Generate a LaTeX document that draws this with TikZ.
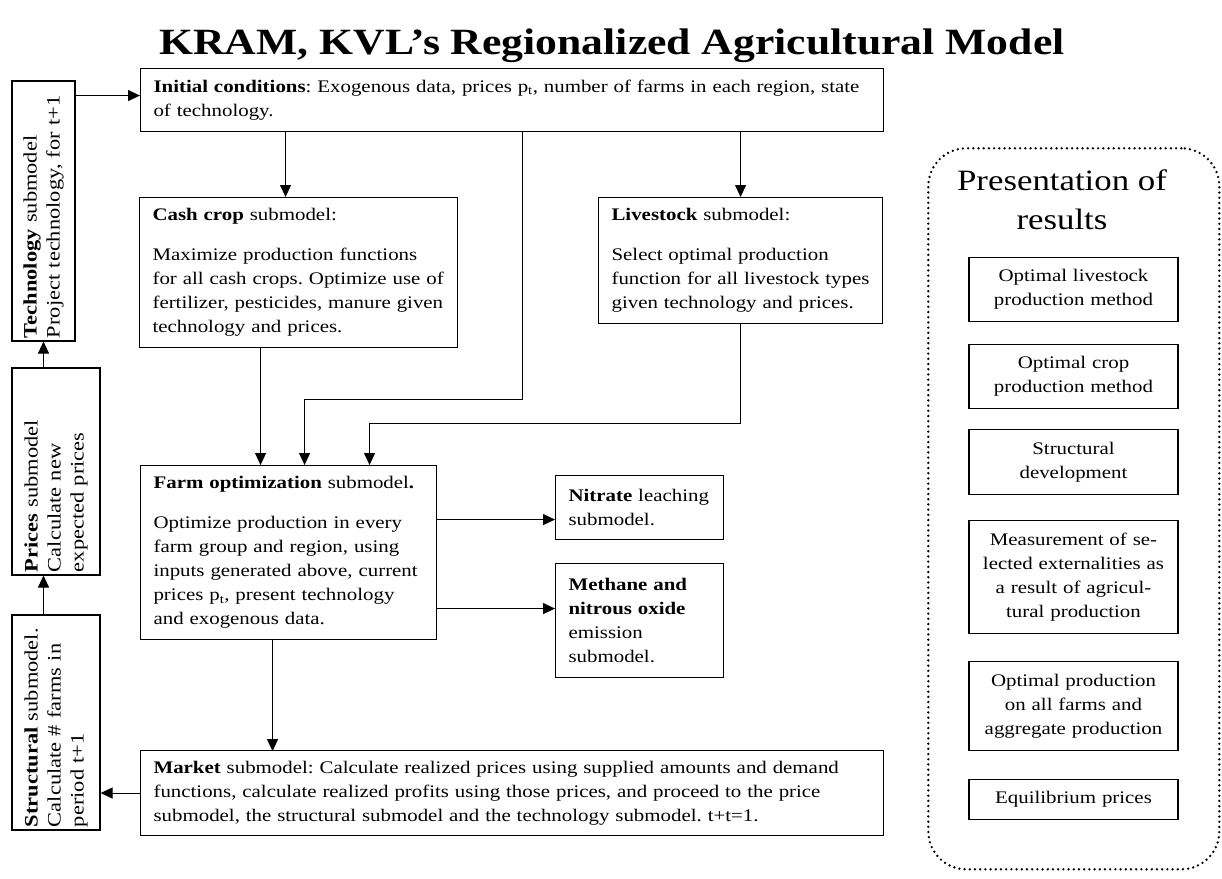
\documentclass[tikz,border=0pt]{standalone}
\usepackage{fontspec}
\setmainfont{Liberation Serif}[FakeStretch=1.18]
\usepackage{tikz}
\usetikzlibrary{arrows.meta,positioning}

\newcommand\boxfont{\fontsize{17.7}{24}\selectfont}
\newcommand\sidefont{\fontsize{19}{23}\selectfont}
\newcommand\headfont{\fontsize{37}{40}\selectfont\bfseries}
\newcommand\groupfont{\fontsize{29.5}{39}\selectfont}

\begin{document}
\frenchspacing
\begin{tikzpicture}[
        x=1pt, y=-1pt,
        box/.style={
            rectangle,
            draw=black,
            line width=1.1pt,
            anchor=north west,
            align=left,
            inner xsep=13pt,
            inner ysep=0pt,
            font=\boxfont
        },
        side/.style={
            box,
            anchor=center,
            rotate=90,
            inner xsep=3pt,
            font=\sidefont
        },
        result/.style={
            box,
            anchor=north,
            align=center,
            inner xsep=4pt,
            text width=201pt
        },
        group/.style={
            draw=black,
            line width=2.6pt,
            dash pattern=on 0pt off 5.2pt,
            line cap=round,
            rounded corners=38pt,
            anchor=north west
        },
        arrow/.style={-{Triangle[length=12pt,width=11pt]}, draw, line width=1.1pt}
    ]
        \useasboundingbox (0,0) rectangle (1222,878);

        % Title
        \node[font=\headfont] (title) at (612,46) {KRAM, KVL’s Regionalized Agricultural Model};

        % Submodel boxes
        \node[box, text width=717pt, minimum height=63pt] (initial) at (140,68)
            {\textbf{Initial conditions}: Exogenous data, prices p\textsubscript{t}, number of farms in each region, state\\of technology.};

        \node[box, text width=292pt, minimum height=150pt] (cashcrop) at (139,197)
            {\textbf{Cash crop} submodel:\\[16pt]Maximize production functions\\for all cash crops. Optimize use of\\fertilizer, pesticides, manure given\\technology and prices.};

        \node[box, text width=258pt, minimum height=126pt] (livestock) at (598,197)
            {\textbf{Livestock} submodel:\\[16pt]Select optimal production\\function for all livestock types\\given technology and prices.};

        \node[box, text width=270pt, minimum height=174pt] (farm) at (140,465)
            {\textbf{Farm optimization} submodel\textbf{.}\\[16pt]Optimize production in every\\farm group and region, using\\inputs generated above, current\\prices p\textsubscript{t}, present technology\\and exogenous data.};

        \node[box, text width=142pt, minimum height=64pt] (nitrate) at (555,475)
            {\textbf{Nitrate} leaching\\submodel.};

        \node[box, text width=142pt, minimum height=114pt] (methane) at (555,563)
            {\textbf{Methane and}\\\textbf{nitrous oxide}\\emission\\submodel.};

        \node[box, text width=717pt, minimum height=85pt] (market) at (140,750)
            {\textbf{Market} submodel: Calculate realized prices using supplied amounts and demand\\functions, calculate realized profits using those prices, and proceed to the price\\submodel, the structural submodel and the technology submodel. t+t=1.};

        % Side boxes (rotated)
        \node[side, text width=254pt, minimum height=63pt] (tech) at (43.5,211)
            {\textbf{Technology} submodel\\Project technology, for t+1};
        \node[side, text width=201pt, minimum height=88pt] (prices) at (56,471.5)
            {\textbf{Prices} submodel\\Calculate new\\expected prices};
        \node[side, text width=209pt, minimum height=88pt] (structural) at (56,722.5)
            {\textbf{Structural} submodel.\\Calculate \# farms in\\period t+1};

        % Presentation of results
        \node[group, minimum width=291pt, minimum height=721pt] (results) at (927,147) {};
        \node[font=\groupfont, align=center, inner sep=0pt] (restitle) at (1062,200) {Presentation of\\results};

        \node[result, minimum height=64pt] (res1) at (1073.5,257) {Optimal livestock\\production method};
        \node[result, minimum height=64pt] (res2) at (1073.5,344) {Optimal crop\\production method};
        \node[result, minimum height=65pt] (res3) at (1073.5,429) {Structural\\development};
        \node[result, minimum height=113pt] (res4) at (1073.5,520) {Measurement of se-\\lected externalities as\\a result of agricul-\\tural production};
        \node[result, minimum height=89pt] (res5) at (1073.5,661) {Optimal production\\on all farms and\\aggregate production};
        \node[result, minimum height=40pt] (res6) at (1073.5,779) {Equilibrium prices};

        % Entry points on the farm box
        \coordinate (f1) at ([xshift=-28pt]farm.north);
        \coordinate (f2) at ([xshift=16pt]farm.north);
        \coordinate (f3) at ([xshift=81pt]farm.north);
        \coordinate (cc in) at ([xshift=-13pt]cashcrop.north);
        \coordinate (n in) at ([yshift=-12pt]nitrate.west);
        \coordinate (m in) at ([yshift=12pt]methane.west);

        % Flow lines
        \draw[arrow] (initial.south -| cc in) -- (cc in);
        \draw[arrow] (initial.south -| livestock.north) -- (livestock.north);
        \draw[arrow] ([xshift=10.5pt]initial.south) -- ++(0,267) -| (f2);
        \draw[arrow] (cashcrop.south -| f1) -- (f1);
        \draw[arrow] (livestock.south) -- ++(0,99) -| (f3);
        \draw[arrow] (farm.east |- n in) -- (n in);
        \draw[arrow] (farm.east |- m in) -- (m in);
        \draw[arrow] ([xshift=-16pt]farm.south) -- ++(0,111);

        % Feedback loop
        \draw[arrow] (market.west) -- (structural.south |- market.west);
        \draw[arrow] (tech |- structural.east) -- (tech |- prices.west);
        \draw[arrow] (tech |- prices.east) -- (tech.west);
        \draw[arrow] ([yshift=4.5pt]tech.south |- initial.west) -- ([yshift=4.5pt]initial.west);

    \end{tikzpicture}
\end{document}
